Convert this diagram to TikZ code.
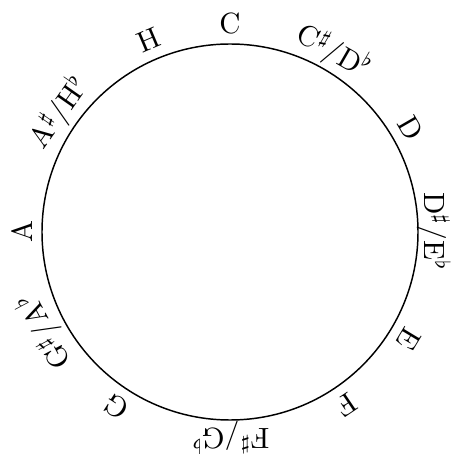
\documentclass[tikz,border=0pt]{standalone}
\usepackage{amsmath,amssymb}
\usepackage{tikz}
\tikzset{
  wheel/.style ={draw, line width=0.5pt},
  tone/.style  ={inner sep=0pt, font=\normalsize},
}
\newcommand{\sh}[1]{#1$^\sharp$}
\newcommand{\fl}[1]{#1$^\flat$}
\begin{document}
\begin{tikzpicture}
  \useasboundingbox (-2.76,-2.664) rectangle (2.676,2.784);
  \draw[wheel] (0,0) coordinate (m) circle (2.256);
  \node[tone, rotate=0]    (c)   at (90:2.5)   {C};
  \node[tone, rotate=-30]  (cis) at (60:2.5)   {\sh{C}/\fl{D}};
  \node[tone, rotate=-60]  (d)   at (30:2.5)   {D};
  \node[tone, rotate=-90]  (dis) at (0:2.45)   {\sh{D}/\fl{E}};
  \node[tone, rotate=-121] (e)   at (-31:2.5)  {E};
  \node[tone, rotate=-146] (f)   at (-56:2.5)  {F};
  \node[tone, rotate=-180] (fis) at (-90:2.47) {\sh{F}/\fl{G}};
  \node[tone, rotate=-213] (g)   at (-123:2.5) {G};
  \node[tone, rotate=-242] (gis) at (-152:2.52) {\sh{G}/\fl{A}};
  \node[tone, rotate=90]   (a)   at (180:2.5)  {A};
  \node[tone, rotate=55]   (ais) at (145:2.5)  {\sh{A}/\fl{H}};
  \node[tone, rotate=23]   (h)   at (113:2.5)  {H};
\end{tikzpicture}
\end{document}
